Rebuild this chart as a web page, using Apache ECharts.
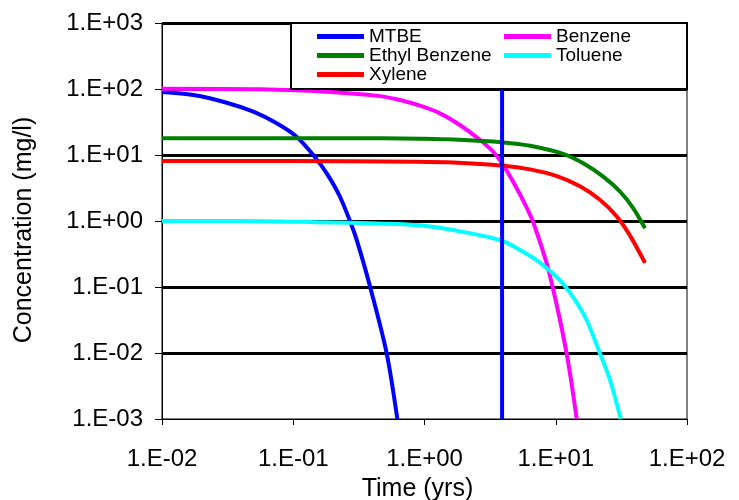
<!DOCTYPE html>
<html><head><meta charset="utf-8">
<script src="https://cdn.jsdelivr.net/npm/echarts@6/dist/echarts.min.js"></script>
<style>html,body{margin:0;padding:0;background:#fff}#c{width:739px;height:500px}</style>
</head><body><div id="c"></div>
<script>
// ---- data ----
var seriesNames = ['MTBE', 'Benzene', 'Ethyl Benzene', 'Toluene', 'Xylene'];
var xTickLabels = ['1.E-02', '1.E-01', '1.E+00', '1.E+01', '1.E+02'];
var yTickLabels = ['1.E-03', '1.E-02', '1.E-01', '1.E+00', '1.E+01', '1.E+02', '1.E+03'];

var mtbeT = [0.01, 0.0173, 0.0311, 0.0497, 0.0748, 0.106, 0.142, 0.18, 0.227, 0.287, 0.323, 0.385, 0.515, 0.621];
var mtbeC = [90, 81, 62, 45.3, 30.2, 18.9, 10, 5.28, 2.33, 0.73, 0.35, 0.101, 0.0099, 0.001];

var benzeneT = [0.01, 0.0559, 0.18, 0.458, 0.65, 0.925, 1.31, 1.86, 2.65, 3.34, 3.98, 4.75, 6.01, 6.75, 8.53, 9.58, 10.77, 12.1, 13.2, 14.45];
var benzeneC = [101, 99, 91, 78, 68, 55.8, 42.8, 28.5, 16.9, 11.2, 7.05, 3.9, 1.6, 0.95, 0.229, 0.09, 0.0316, 0.0099, 0.00347, 0.001];

var ethylT = [0.01, 0.1, 0.483, 0.925, 1.66, 3.98, 6.37, 11.4, 16.2, 23, 30.9, 39, 47.9];
var ethylC = [18, 18, 17.9, 17.6, 17.1, 15.5, 13.8, 10.4, 7.48, 4.69, 2.78, 1.56, 0.776];

var tolueneT = [0.01, 0.037, 0.15, 0.515, 0.925, 1.66, 3.76, 5.35, 7.59, 10.77, 13.6, 17.2, 21.7, 25.9, 31.3];
var tolueneC = [1.0, 1.0, 0.96, 0.91, 0.86, 0.73, 0.515, 0.364, 0.234, 0.126, 0.0698, 0.0316, 0.0099, 0.0039, 0.001];

var xyleneT = [0.01, 0.1, 0.82, 1.66, 3.98, 6.37, 10.2, 15.3, 21.7, 29.1, 36.8, 47.9];
var xyleneC = [8.1, 8.1, 7.9, 7.7, 6.9, 6.05, 4.8, 3.36, 2.1, 1.18, 0.6, 0.232];

var markerT = [3.9, 3.9];
var markerC = [0.001, 1000];

// ---- chart ----
function pairs(t, c) { return t.map(function (v, i) { return [v, c[i]]; }); }
function tickLabel(list) {
  return function (v) { var e = Math.round(Math.log10(v)); var s = (e < 0 ? '-' : '+') + (Math.abs(e) < 10 ? '0' : '') + Math.abs(e);
    var lbl = '1.E' + s; return list.indexOf(lbl) >= 0 ? lbl : ''; };
}
var colors = {'MTBE': '#0000FF', 'Benzene': '#FF00FF', 'Ethyl Benzene': '#008000', 'Toluene': '#00FFFF', 'Xylene': '#FF0000'};
var dataMap = {'MTBE': [mtbeT, mtbeC], 'Benzene': [benzeneT, benzeneC], 'Ethyl Benzene': [ethylT, ethylC], 'Toluene': [tolueneT, tolueneC], 'Xylene': [xyleneT, xyleneC]};
var font = 'Liberation Sans, Arial, sans-serif';

var series = seriesNames.map(function (n) {
  return { name: n, type: 'line', data: pairs(dataMap[n][0], dataMap[n][1]), showSymbol: false, smooth: 0.3,
    lineStyle: { color: colors[n], width: 4 }, itemStyle: { color: colors[n] }, z: 3, clip: true };
});
series.push({ name: 'marker', type: 'line', data: pairs(markerT, markerC), showSymbol: false,
  lineStyle: { color: '#0000FF', width: 4 }, z: 3, silent: true });

var chart = echarts.init(document.getElementById('c'), null, { renderer: 'canvas' });
chart.setOption({
  animation: false,
  backgroundColor: '#fff',
  grid: { left: 162, right: 52, top: 23, bottom: 81, show: true, borderColor: '#000', borderWidth: 1, backgroundColor: 'transparent',
    containLabel: false, outerBoundsMode: 'none' },
  xAxis: { type: 'log', logBase: 10, min: 0.01, max: 100, splitNumber: 4,
    name: 'Time (yrs)', nameLocation: 'middle', nameGap: 58, nameMoveOverlap: false,
    nameTextStyle: { fontFamily: font, fontSize: 25, color: '#000', padding: [0, 14, 0, 0] },
    axisLine: { lineStyle: { color: '#000', width: 1 } },
    axisTick: { show: true, inside: false, length: 6, lineStyle: { color: '#000' } },
    minorTick: { show: false }, splitLine: { show: false },
    axisLabel: { formatter: tickLabel(xTickLabels), fontFamily: font, fontSize: 24, color: '#000', margin: 28 } },
  yAxis: { type: 'log', logBase: 10, min: 0.001, max: 1000, splitNumber: 6,
    name: 'Concentration (mg/l)', nameLocation: 'middle', nameGap: 125, nameMoveOverlap: false,
    nameTextStyle: { fontFamily: font, fontSize: 25, color: '#000', padding: [0, 18, 0, 0] },
    axisLine: { lineStyle: { color: '#000', width: 1 } },
    axisTick: { show: true, inside: false, length: 7, lineStyle: { color: '#000' } },
    minorTick: { show: false },
    splitLine: { show: true, showMinLine: false, lineStyle: { color: '#000', width: 3 } },
    axisLabel: { formatter: tickLabel(yTickLabels), fontFamily: font, fontSize: 24, color: '#000', margin: 19 } },
  graphic: [{ type: 'rect', left: 290, top: 22, z: 10, shape: { width: 396, height: 66 },
    style: { fill: '#fff', stroke: '#000', lineWidth: 2 } }],
  legend: [
    { data: ['MTBE', 'Ethyl Benzene', 'Xylene'], orient: 'vertical', left: 317, top: 27, padding: 0, itemGap: 0,
      itemWidth: 47, itemHeight: 5, icon: 'rect', z: 20, textStyle: { fontFamily: font, fontSize: 19, color: '#000', lineHeight: 19 } },
    { data: ['Benzene', 'Toluene'], orient: 'vertical', left: 504, top: 27, padding: 0, itemGap: 0,
      itemWidth: 47, itemHeight: 5, icon: 'rect', z: 20, textStyle: { fontFamily: font, fontSize: 19, color: '#000', lineHeight: 19 } }
  ],
  series: series
});
</script></body></html>
